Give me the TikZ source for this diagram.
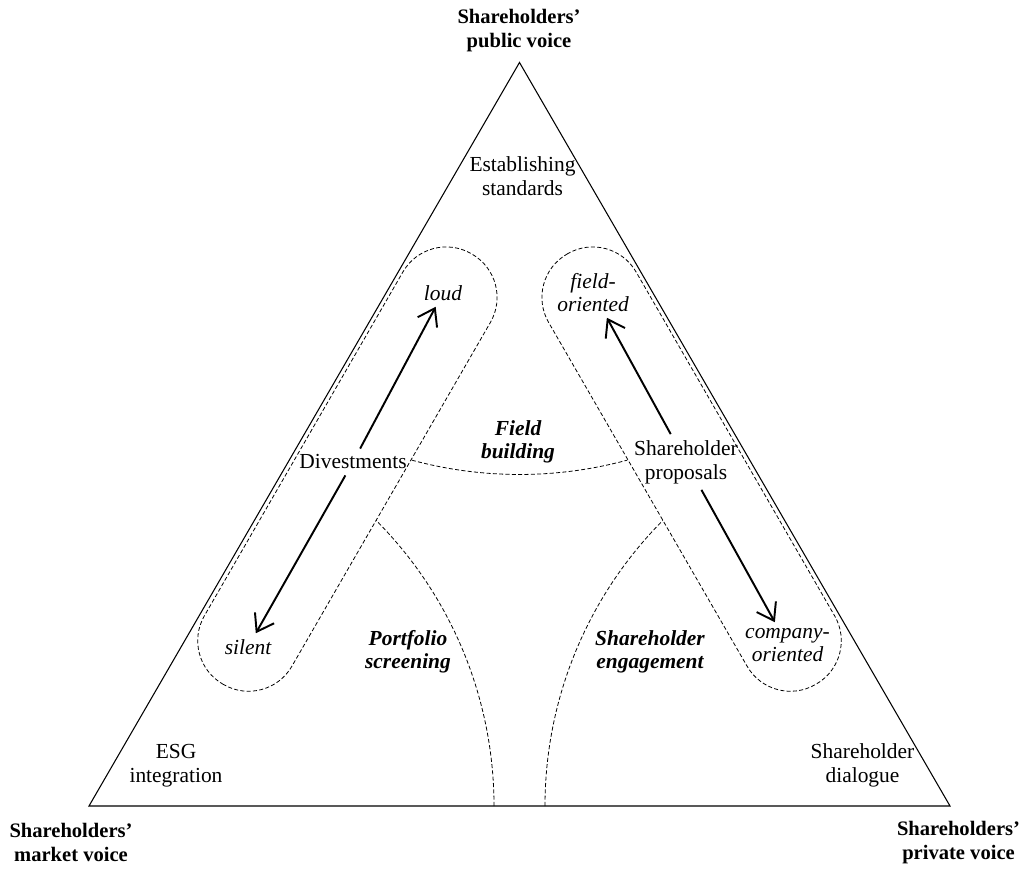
\documentclass[tikz,border=0pt]{standalone}
\usepackage{fontspec}
\setmainfont{Liberation Serif}
\usepackage{tikz}
\usetikzlibrary{arrows.meta}

\begin{document}
\begin{tikzpicture}[
  dashline/.style={dash pattern=on 2.3pt off 1.3pt, line width=0.45pt},
  lbl/.style={font=\fontsize{11.7}{14}\selectfont\bfseries, align=center},
  txt/.style={font=\fontsize{12.2}{13.6}\selectfont, align=center},
  itx/.style={font=\fontsize{12.2}{13}\selectfont\itshape, align=center},
  bix/.style={font=\fontsize{12.2}{13}\selectfont\bfseries\itshape, align=center},
  arr/.style={-{Straight Barb[length=0.32cm, width=0.44cm]}, line width=1.1pt}
]
\useasboundingbox (0,0) rectangle (20.58,17.4);
\coordinate (A) at (10.39,16.15);
\coordinate (B) at (1.78,1.28);
\coordinate (C) at (19.0,1.28);
\draw[line width=0.6pt] (A) -- (B) -- (C) -- cycle;
% corner labels
\node[lbl] (pub) at (10.38,16.79) {Shareholders'\\public voice};
\node[lbl] (market) at (1.42,0.55) {Shareholders'\\market voice};
\node[lbl] (private) at (19.17,0.55) {Shareholders'\\private voice};
\node[txt] (estab) at (10.45,13.87) {Establishing\\standards};
\node[txt] (esg) at (3.52,2.09) {ESG\\integration};
\node[txt] (dialog) at (17.25,2.09) {Shareholder\\dialogue};
% capsules
\begin{scope}[shift={(6.948,8.018)}, rotate=60]
\draw[dashline, rounded corners=1cm] (-4.97,-1.01) rectangle (4.97,1.01);
\end{scope}
\begin{scope}[shift={(13.832,8.018)}, rotate=-60]
\draw[dashline, rounded corners=1cm] (-4.97,-1.01) rectangle (4.97,1.01);
\end{scope}
% inner borders
\draw[dashline] (A) ++(254.85:8.24) arc[start angle=254.85, end angle=285.15, radius=8.24];
\draw[dashline] (B) ++(0:8.1) arc[start angle=0, end angle=44.83, radius=8.1];
\draw[dashline] (C) ++(180:8.1) arc[start angle=180, end angle=135.17, radius=8.1];
% divestments
\node[itx] (loud) at (8.86,11.54) {loud};
\node[itx] (silent) at (4.96,4.46) {silent};
\node[txt] (divest) at (7.06,8.16) {Divestments};
\draw[arr] (divest) -- (loud);
\draw[arr] (divest) -- (silent);
% proposals
\node[itx] (fieldor) at (11.86,11.55) {field-\\oriented};
\node[itx] (compor) at (15.75,4.5) {company-\\oriented};
\node[txt] (proposals) at (13.72,8.16) {Shareholder\\proposals};
\draw[arr] (proposals) -- (fieldor);
\draw[arr] (proposals) -- (compor);
% areas
\node[bix] (fieldb) at (10.36,8.57) {Field\\building};
\node[bix] (portf) at (8.16,4.37) {Portfolio\\screening};
\node[bix] (engage) at (13.0,4.37) {Shareholder\\engagement};
\end{tikzpicture}
\end{document}
